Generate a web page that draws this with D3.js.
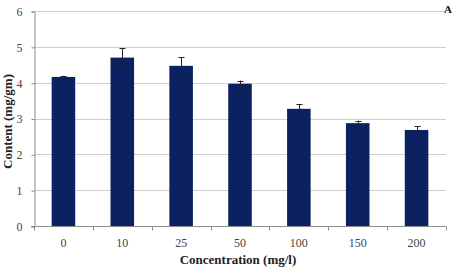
<!DOCTYPE html>
<html>
<head>
<meta charset="utf-8">
<script src="https://cdn.jsdelivr.net/npm/d3@7"></script>
<style>
  body { margin: 0; background: #fff; }
</style>
</head>
<body>
<svg width="453" height="267"></svg>
<script>
// Data
const concentrations = ["0", "10", "25", "50", "100", "150", "200"];
const contents = [4.16, 4.70, 4.47, 3.97, 3.27, 2.87, 2.68];
const errors = [0.03, 0.27, 0.24, 0.09, 0.13, 0.07, 0.10];
const yTicks = [0, 1, 2, 3, 4, 5, 6];

const serif = "'Liberation Serif', 'DejaVu Serif', serif";
const svg = d3.select("svg").attr("font-family", serif);
const plotLeft = 34, plotRight = 446, plotTop = 11, plotBottom = 226;

const x = d3.scaleBand()
	.domain(concentrations)
	.range([plotLeft, plotRight])
	.paddingInner(0.6)
	.paddingOuter(0.3);

const y = d3.scaleLinear()
	.domain([0, 6])
	.range([plotBottom, plotTop]);

// gridlines
svg.append("g")
	.selectAll("line")
	.data(yTicks.filter((d) => d > 0))
	.join("line")
	.attr("x1", plotLeft)
	.attr("x2", plotRight)
	.attr("y1", (d) => Math.round(y(d)) + 0.5)
	.attr("y2", (d) => Math.round(y(d)) + 0.5)
	.attr("stroke", "#cfcfcf")
	.attr("stroke-width", 1);

// y axis
const yAxis = svg.append("g")
	.attr("transform", `translate(${plotLeft + 0.5},0.5)`)
	.call(d3.axisLeft(y).tickValues(yTicks).tickFormat(d3.format("d")).tickSize(3).tickPadding(9))
	.attr("font-family", serif)
	.attr("font-size", 12);
yAxis.select(".domain").attr("stroke", "#8c8c8c");
yAxis.selectAll(".tick line").attr("stroke", "#8c8c8c");
yAxis.selectAll("text").attr("fill", "#444");

// x axis: ticks at category boundaries
const xg = svg.append("g").attr("transform", `translate(0,${plotBottom + 0.5})`);
xg.append("line")
	.attr("x1", plotLeft - 3)
	.attr("x2", plotRight)
	.attr("stroke", "#8c8c8c");
const boundaries = d3.range(concentrations.length + 1)
	.map((i) => plotLeft + (plotRight - plotLeft) * i / concentrations.length);
xg.selectAll("line.tk")
	.data(boundaries)
	.join("line")
	.attr("class", "tk")
	.attr("x1", (d) => Math.round(d) + 0.5)
	.attr("x2", (d) => Math.round(d) + 0.5)
	.attr("y1", 0)
	.attr("y2", 4)
	.attr("stroke", "#8c8c8c");
xg.selectAll("text")
	.data(concentrations)
	.join("text")
	.attr("x", (d) => x(d) + x.bandwidth() / 2)
	.attr("y", 20)
	.attr("text-anchor", "middle")
	.attr("fill", "#444")
	.attr("font-size", 12)
	.text((d) => d);

// bars
svg.append("g")
	.selectAll("rect")
	.data(concentrations)
	.join("rect")
	.attr("x", (d) => x(d))
	.attr("y", (d, i) => y(contents[i]))
	.attr("width", x.bandwidth())
	.attr("height", (d, i) => plotBottom - y(contents[i]))
	.attr("fill", "#0b2160");

// error bars
const eg = svg.append("g").attr("stroke", "#222").attr("stroke-width", 1);
concentrations.forEach((c, i) => {
	const cx = Math.round(x(c) + x.bandwidth() / 2) + 0.5;
	eg.append("line")
		.attr("x1", cx).attr("x2", cx)
		.attr("y1", y(contents[i] - errors[i]))
		.attr("y2", y(contents[i] + errors[i]));
	eg.append("line")
		.attr("x1", cx - 3).attr("x2", cx + 3)
		.attr("y1", Math.round(y(contents[i] + errors[i])) + 0.5)
		.attr("y2", Math.round(y(contents[i] + errors[i])) + 0.5);
});

// titles
svg.append("text")
	.attr("transform", `translate(12,${(plotTop + plotBottom) / 2 + 3}) rotate(-90)`)
	.attr("text-anchor", "middle")
	.attr("font-weight", "bold")
	.attr("font-size", 13)
	.attr("fill", "#222")
	.text("Content (mg/gm)");

svg.append("text")
	.attr("x", 238)
	.attr("y", 264)
	.attr("text-anchor", "middle")
	.attr("font-weight", "bold")
	.attr("font-size", 13)
	.attr("fill", "#222")
	.text("Concentration (mg/l)");

svg.append("text")
	.attr("x", 452)
	.attr("y", 13)
	.attr("text-anchor", "end")
	.attr("font-weight", "bold")
	.attr("font-size", 11)
	.attr("fill", "#111")
	.text("A");
</script>
</body>
</html>
